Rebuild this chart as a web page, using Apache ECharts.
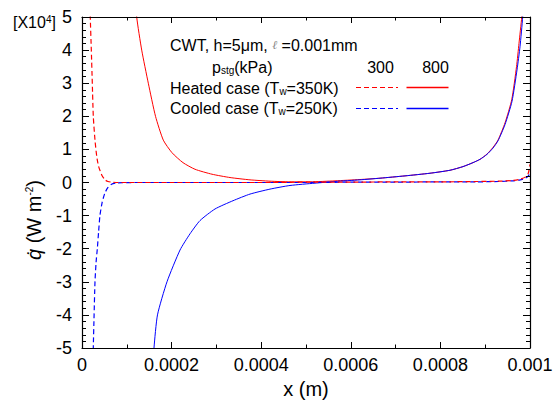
<!DOCTYPE html>
<html>
<head>
<meta charset="utf-8">
<script src="https://cdn.jsdelivr.net/npm/echarts@6/dist/echarts.min.js"></script>
<style>
  html, body { margin: 0; padding: 0; background: #fff; }
  #chart { width: 557px; height: 408px; }
</style>
</head>
<body>
<div id="chart"></div>
<script>
// Wall heat flux q (in units of 1e4 W/m^2) along the channel, x in metres.
const xTicks = [0, 0.0002, 0.0004, 0.0006, 0.0008, 0.001];
const yTicks = [-5, -4, -3, -2, -1, 0, 1, 2, 3, 4, 5];

// Heated case (Tw = 350 K), p_stg = 300 kPa
const xHeated300 = [1.56e-5, 1.85e-5, 2.08e-5, 2.3e-5, 2.52e-5, 2.9e-5, 3.28e-5, 3.68e-5, 4.4e-5, 5.13e-5, 5.8e-5, 6.7e-5, 8.04e-5, 1.0e-4, 2.0e-4, 3.0e-4, 4.0e-4, 5.0e-4, 6.0e-4, 7.0e-4, 8.0e-4, 8.8e-4, 9.3e-4, 9.6e-4, 9.78e-4, 9.9e-4, 9.96e-4, 1.0e-3];
const qHeated300 = [7.0, 5.0, 4.0, 3.0, 2.0, 1.28, 0.8, 0.5, 0.23, 0.08, 0.03, 0.01, 0.0, 0.0, 0.0, 0.0, 0.0, 0.01, 0.01, 0.02, 0.02, 0.03, 0.04, 0.06, 0.1, 0.17, 0.27, 0.55];

// Heated case (Tw = 350 K), p_stg = 800 kPa
const xHeated800 = [1.138e-4, 1.221e-4, 1.333e-4, 1.48e-4, 1.641e-4, 1.815e-4, 2.009e-4, 2.254e-4, 2.522e-4, 2.902e-4, 3.304e-4, 3.75e-4, 4.196e-4, 4.643e-4, 5.089e-4, 5.647e-4, 6.205e-4, 6.652e-4, 7.21e-4, 7.768e-4, 8.214e-4, 8.504e-4, 8.728e-4, 8.884e-4, 9.04e-4, 9.174e-4, 9.286e-4, 9.442e-4, 9.592e-4, 9.699e-4, 9.754e-4, 9.815e-4, 9.911e-4];
const qHeated800 = [6.5, 5.0, 4.0, 3.0, 2.0, 1.28, 0.9, 0.6, 0.4, 0.25, 0.15, 0.08, 0.04, 0.02, 0.02, 0.05, 0.09, 0.13, 0.2, 0.28, 0.37, 0.48, 0.6, 0.7, 0.86, 1.06, 1.28, 1.8, 2.5, 3.5, 4.2, 5.0, 7.0];

// Cooled case (Tw = 250 K), p_stg = 300 kPa
const xCooled300 = [2.2e-5, 2.52e-5, 2.7e-5, 2.9e-5, 3.15e-5, 3.42e-5, 3.7e-5, 4.0e-5, 4.5e-5, 5.1e-5, 5.8e-5, 6.6e-5, 7.5e-5, 9.0e-5, 1.2e-4, 2.0e-4, 3.0e-4, 4.0e-4, 5.0e-4, 6.0e-4, 7.0e-4, 8.0e-4, 8.8e-4, 9.3e-4, 9.6e-4, 9.78e-4, 9.9e-4, 9.96e-4, 1.0e-3];
const qCooled300 = [-7.0, -5.0, -4.0, -3.0, -2.4, -2.0, -1.5, -1.0, -0.6, -0.32, -0.15, -0.05, -0.02, -0.005, 0.0, 0.0, 0.0, 0.0, 0.0, 0.01, 0.01, 0.02, 0.02, 0.03, 0.05, 0.08, 0.13, 0.19, 0.3];

// Cooled case (Tw = 250 K), p_stg = 800 kPa
const xCooled800 = [1.54e-4, 1.607e-4, 1.685e-4, 1.897e-4, 2.188e-4, 2.411e-4, 2.634e-4, 2.969e-4, 3.371e-4, 3.75e-4, 4.196e-4, 4.643e-4, 5.201e-4, 5.647e-4, 6.205e-4, 6.652e-4, 7.21e-4, 7.768e-4, 8.214e-4, 8.504e-4, 8.728e-4, 8.884e-4, 9.04e-4, 9.174e-4, 9.286e-4, 9.442e-4, 9.598e-4, 9.71e-4, 9.777e-4, 9.837e-4, 9.933e-4];
const qCooled800 = [-6.5, -5.0, -4.0, -3.0, -2.04, -1.55, -1.15, -0.8, -0.55, -0.35, -0.2, -0.09, -0.02, 0.03, 0.08, 0.13, 0.2, 0.28, 0.37, 0.48, 0.6, 0.7, 0.85, 1.04, 1.26, 1.75, 2.45, 3.4, 4.1, 5.0, 7.0];

const RED = '#ff0000';
const BLUE = '#0000ff';
const FONT = '"Liberation Sans", Arial, Helvetica, sans-serif';

const pairs = (xs, ys) => xs.map((x, i) => [x, ys[i]]);

function curve(name, xs, ys, color, dashed) {
  return {
    name: name,
    type: 'line',
    data: pairs(xs, ys),
    showSymbol: false,
    smooth: 0.2,
    lineStyle: { color: color, width: dashed ? 1.2 : 1, type: dashed ? [5, 3] : 'solid' }
  };
}

function xAxisDef(pos, showLabel, title) {
  return {
    type: 'value', position: pos, min: xTicks[0], max: xTicks[xTicks.length - 1],
    interval: xTicks[1] - xTicks[0], z: 5,
    axisLine: { show: true, onZero: false, lineStyle: { color: '#000', width: 1.2 } },
    axisTick: { show: true, inside: true, length: 6, lineStyle: { color: '#000', width: 1 } },
    minorTick: { show: true, splitNumber: 2, length: 3.5, lineStyle: { color: '#000', width: 1 } },
    splitLine: { show: false },
    axisLabel: {
      show: showLabel, color: '#000', fontSize: 18, fontFamily: FONT, margin: 8,
      formatter: v => String(parseFloat(v.toPrecision(6)))
    },
    name: title,
    nameLocation: 'middle', nameGap: 31,
    nameTextStyle: { color: '#000', fontSize: 20, fontFamily: FONT }
  };
}

function yAxisDef(pos, showLabel) {
  return {
    type: 'value', position: pos, min: yTicks[0], max: yTicks[yTicks.length - 1],
    interval: yTicks[1] - yTicks[0], z: 5,
    axisLine: { show: true, onZero: false, lineStyle: { color: '#000', width: 1.2 } },
    axisTick: { show: true, inside: true, length: 7, lineStyle: { color: '#000', width: 1 } },
    minorTick: { show: true, splitNumber: 5, length: 4, lineStyle: { color: '#000', width: 1 } },
    splitLine: { show: false },
    axisLabel: { show: showLabel, color: '#000', fontSize: 18, fontFamily: FONT, margin: 10 }
  };
}

const RICH = {
  sub: { fontSize: 10, fontFamily: FONT, fill: '#000', verticalAlign: 'bottom', lineHeight: 10, padding: [14, 0, 0, 0] },
  sup: { fontSize: 10, fontFamily: FONT, fill: '#000', verticalAlign: 'top', lineHeight: 10, padding: [0, 0, 10, 0] },
  ell: { fontSize: 12, fontFamily: '"DejaVu Serif", serif', fontStyle: 'italic', fill: '#888' },
  qi: { fontSize: 20, fontFamily: FONT, fontStyle: 'italic', fill: '#000' }
};

const txt = (x, y, text, styleExtra, elExtra) => Object.assign({
  type: 'text', x: x, y: y, silent: true, z: 50,
  style: Object.assign({
    text: text, fill: '#000', fontSize: 16, fontFamily: FONT,
    align: 'left', verticalAlign: 'middle', rich: RICH
  }, styleExtra || {})
}, elExtra || {});

// Legend sample strokes
const seg = (x1, y1, x2, y2, color, dashed) => ({
  type: 'polyline', silent: true, z: 60,
  shape: { points: [[x1, y1], [x2, y2]] },
  style: { stroke: color, fill: null, lineWidth: dashed ? 1.2 : 1.4, lineDash: dashed ? [5, 3] : null }
});

const option = {
  backgroundColor: '#fff',
  animation: false,
  grid: { left: 82, right: 27, top: 17, bottom: 60 },
  xAxis: [xAxisDef('bottom', true, 'x (m)'), xAxisDef('top', false, '')],
  yAxis: [yAxisDef('left', true), yAxisDef('right', false)],
  series: [
    curve('Heated 800', xHeated800, qHeated800, RED, false),
    curve('Cooled 800', xCooled800, qCooled800, BLUE, false),
    curve('Cooled 300', xCooled300, qCooled300, BLUE, true),
    curve('Heated 300', xHeated300, qHeated300, RED, true)
  ],
  graphic: [
    txt(13, 22, '[X10{sup|4}]'),
    txt(34, 220, '{qi|q\u0307} (W m{sup|-2})', { fontSize: 20, align: 'center' }, { rotation: Math.PI / 2 }),
    txt(170, 45, 'CWT, h=5\u03bcm, {ell|\u2113} =0.001mm'),
    txt(212, 67, 'p{sub|stg}(kPa)'),
    txt(380.5, 67, '300', { align: 'center' }),
    txt(435.5, 67, '800', { align: 'center' }),
    txt(170, 88, 'Heated case (T{sub|w}=350K)'),
    txt(170, 108, 'Cooled case (T{sub|w}=250K)'),
    seg(356, 87.5, 398, 87.5, RED, true),
    seg(406.5, 87.5, 448.5, 87.5, RED, false),
    seg(356, 108.5, 398, 108.5, BLUE, true),
    seg(406.5, 108.5, 448.5, 108.5, BLUE, false)
  ]
};

// SVG output keeps every stroke's dash setting on its own element
const chart = echarts.init(document.getElementById('chart'), null, { renderer: 'svg' });
chart.setOption(option);
</script>
</body>
</html>
